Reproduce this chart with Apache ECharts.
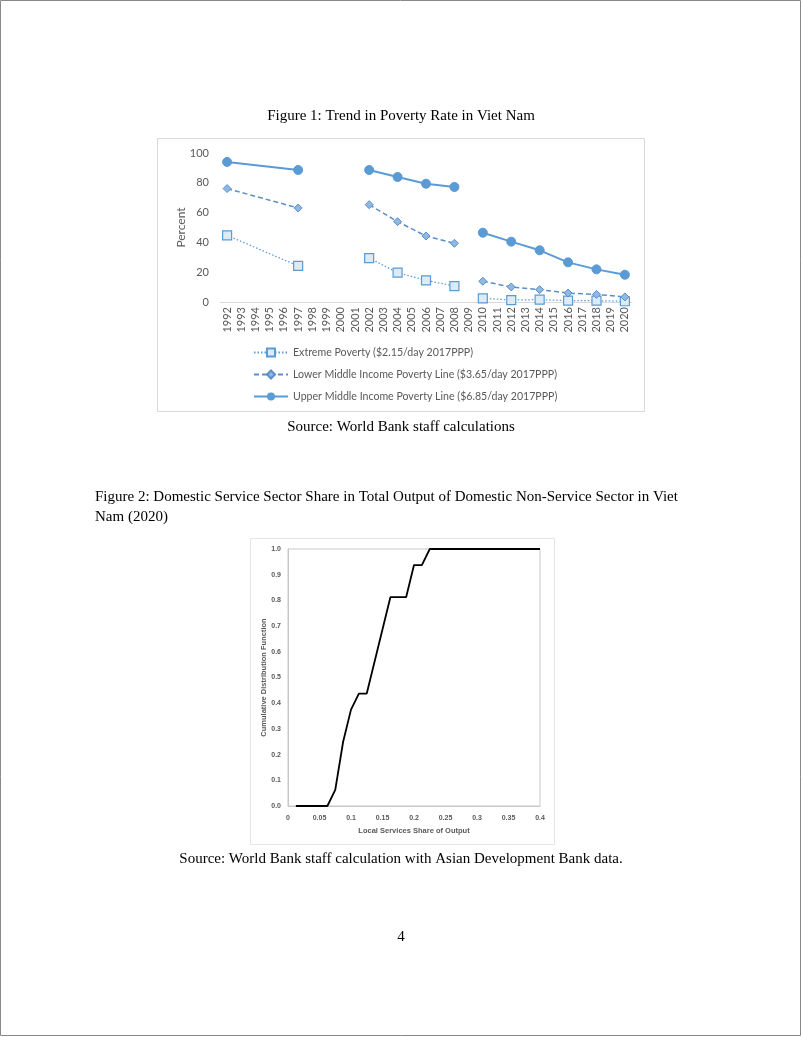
<!DOCTYPE html>
<html><head><meta charset="utf-8">
<script src="https://cdn.jsdelivr.net/npm/echarts@6/dist/echarts.min.js"></script>
<style>html,body{margin:0;padding:0;background:#fff}#c{width:802px;height:1037px}</style>
</head><body><div id="c"></div>
<script>
// ---- Figure 1 data ----
const years = [];
for (let y = 1992; y <= 2020; y++) years.push(String(y));
const surveyYears = ['1992','1997','2002','2004','2006','2008','2010','2012','2014','2016','2018','2020'];
const breakBefore = ['2002','2010'];
const extremePoverty = [44.7,24.2,29.5,19.7,14.5,10.7,2.5,1.3,1.6,0.9,0.9,0.5];
const lowerMiddle   = [76.1,63.1,65.3,53.9,44.3,39.4,13.9,10.1,8.3,6.0,5.1,3.4];
const upperMiddle   = [94.0,88.6,88.6,83.9,79.4,77.2,46.5,40.5,34.7,26.6,21.9,18.3];
const seriesNames = ['Extreme Poverty ($2.15/day 2017PPP)','Lower Middle Income Poverty Line ($3.65/day 2017PPP)','Upper Middle Income Poverty Line ($6.85/day 2017PPP)'];

// ---- Figure 2 data ----
const cdfX = [0.0125,0.0625,0.075,0.0875,0.1,0.1125,0.125,0.1625,0.1875,0.2,0.2125,0.225,0.4];
const cdfY = [0,0,0.0625,0.25,0.375,0.4375,0.4375,0.8125,0.8125,0.9375,0.9375,1.0,1.0];

function build(vals){
  const out=[];
  surveyYears.forEach((y,i)=>{
    if (breakBefore.includes(y)) out.push([y,'-']);
    out.push([y,vals[i]]);
  });
  return out;
}

const serif = '"Liberation Serif","Times New Roman",serif';
const sans1 = 'Lato,"Open Sans",sans-serif';
const sans2 = '"Liberation Sans",Arial,sans-serif';
const blue = '#5B9BD5';

const chart = echarts.init(document.getElementById('c'), null, {renderer:'canvas'});
chart.setOption({
  animation:false,
  backgroundColor:'#fff',
  graphic:[
    {type:'rect',shape:{x:0.5,y:0.5,width:800,height:1035},style:{fill:'none',stroke:'#888',lineWidth:1},z:-10},
    {type:'rect',shape:{x:157.5,y:138.5,width:487,height:273},style:{fill:'none',stroke:'#d9d9d9',lineWidth:1},z:-5},
    {type:'rect',shape:{x:250.5,y:538.5,width:304,height:306},style:{fill:'none',stroke:'#e6e6e6',lineWidth:1},z:-5},
    {type:'text',x:401,y:116,style:{text:'Figure 1: Trend in Poverty Rate in Viet Nam',font:'15px '+serif,fill:'#000',align:'center',verticalAlign:'middle'}},
    {type:'text',x:401,y:427,style:{text:'Source: World Bank staff calculations',font:'15px '+serif,fill:'#000',align:'center',verticalAlign:'middle'}},
    {type:'text',x:95,y:497,style:{text:'Figure 2: Domestic Service Sector Share in Total Output of Domestic Non-Service Sector in Viet',font:'15px '+serif,fill:'#000',align:'left',verticalAlign:'middle'}},
    {type:'text',x:95,y:517,style:{text:'Nam (2020)',font:'15px '+serif,fill:'#000',align:'left',verticalAlign:'middle'}},
    {type:'text',x:401,y:859,style:{text:'Source: World Bank staff calculation with Asian Development Bank data.',font:'15px '+serif,fill:'#000',align:'center',verticalAlign:'middle'}},
    {type:'text',x:401,y:937,style:{text:'4',font:'15px '+serif,fill:'#000',align:'center',verticalAlign:'middle'}}
  ],
  legend:{
    orient:'vertical', left:248, top:342, itemGap:11, itemWidth:34, itemHeight:10,
    textStyle:{fontFamily:sans1,fontSize:10.6,color:'#595959'},
    data:seriesNames
  },
  grid:[
    {left:220, right:170, top:153, bottom:735, containLabel:false},
    {left:288, right:262, top:549, bottom:231, containLabel:false, show:true, borderColor:'#c8c8c8', borderWidth:1}
  ],
  xAxis:[
    {type:'category', gridIndex:0, data:years, boundaryGap:true,
     axisLine:{lineStyle:{color:'#d9d9d9',width:1}}, axisTick:{show:false},
     axisLabel:{rotate:90, interval:0, fontFamily:sans1, fontSize:11, color:'#595959', margin:5}},
    {type:'value', gridIndex:1, min:0, max:0.4, interval:0.05,
     axisLine:{show:true,lineStyle:{color:'#c8c8c8'}}, axisTick:{show:false}, splitLine:{show:false},
     axisLabel:{fontFamily:sans2, fontSize:7, color:'#595959', fontWeight:'bold', margin:9},
     name:'Local Services Share of Output', nameLocation:'middle', nameGap:21, nameMoveOverlap:false,
     nameTextStyle:{fontFamily:sans2, fontSize:7.5, color:'#595959', fontWeight:'bold'}}
  ],
  yAxis:[
    {type:'value', gridIndex:0, min:0, max:100, interval:20,
     axisLine:{show:false}, axisTick:{show:false}, splitLine:{show:false},
     axisLabel:{fontFamily:sans1, fontSize:11, color:'#595959', margin:11},
     name:'Percent', nameLocation:'middle', nameGap:33, nameRotate:90, nameMoveOverlap:false,
     nameTextStyle:{fontFamily:sans1, fontSize:12, color:'#595959'}},
    {type:'value', gridIndex:1, min:0, max:1, interval:0.1,
     axisLine:{show:true,lineStyle:{color:'#c8c8c8'}}, axisTick:{show:false}, splitLine:{show:false},
     axisLabel:{fontFamily:sans2, fontSize:7, color:'#595959', fontWeight:'bold', margin:7, formatter:v=>v.toFixed(1)},
     name:'Cumulative Distribution Function', nameLocation:'middle', nameGap:20, nameRotate:90, nameMoveOverlap:false,
     nameTextStyle:{fontFamily:sans2, fontSize:7.5, color:'#595959', fontWeight:'bold'}}
  ],
  series:[
    {name:seriesNames[0], type:'line', xAxisIndex:0, yAxisIndex:0, data:build(extremePoverty),
     symbol:'rect', symbolSize:9,
     lineStyle:{color:blue, width:1.25, type:[1.5,2]},
     itemStyle:{color:'#DDEBF7', borderColor:blue, borderWidth:1.2}},
    {name:seriesNames[1], type:'line', xAxisIndex:0, yAxisIndex:0, data:build(lowerMiddle),
     symbol:'diamond', symbolSize:8,
     lineStyle:{color:'#5B8FCB', width:1.5, type:[5,3]},
     itemStyle:{color:'#8FB8E2', borderColor:'#5B8FCB', borderWidth:1}},
    {name:seriesNames[2], type:'line', xAxisIndex:0, yAxisIndex:0, data:build(upperMiddle),
     symbol:'circle', symbolSize:9,
     lineStyle:{color:blue, width:2},
     itemStyle:{color:blue, borderColor:blue}},
    {name:'CDF', type:'line', xAxisIndex:1, yAxisIndex:1,
     data:cdfX.map((x,i)=>[x,cdfY[i]]), showSymbol:false, symbol:'none',
     lineStyle:{color:'#000', width:1.8}}
  ]
});
</script></body></html>
